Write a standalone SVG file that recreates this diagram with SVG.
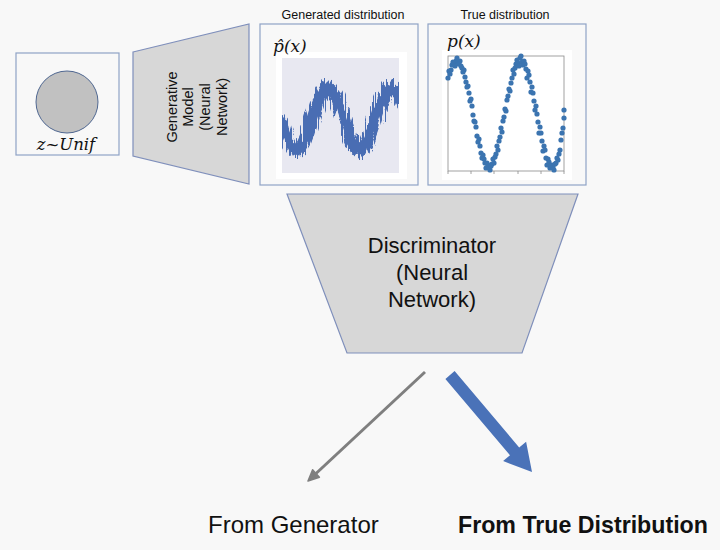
<svg xmlns="http://www.w3.org/2000/svg" width="720" height="550" viewBox="0 0 720 550">
<style>
.frame{fill:none;stroke:#8fa3c6;stroke-width:1.2}
.trap{fill:#d7d7d7;stroke:#7f8fbb;stroke-width:1.2}
.sans{font-family:"Liberation Sans",Arial,sans-serif;fill:#111}
.math{font-family:"DejaVu Serif","Liberation Serif",serif;font-style:italic;fill:#111}
</style>
<defs>
<marker id="dot" markerUnits="userSpaceOnUse" markerWidth="6" markerHeight="6" refX="3" refY="3" overflow="visible">
<circle cx="3" cy="3" r="2.6" fill="#3b74b0"/>
</marker>
<clipPath id="plotclip"><rect x="282" y="58" width="117" height="115"/></clipPath>
<filter id="jit" filterUnits="userSpaceOnUse" x="270" y="40" width="140" height="150">
<feTurbulence type="fractalNoise" baseFrequency="0.55 0.03" numOctaves="2" seed="4" result="n"/>
<feDisplacementMap in="SourceGraphic" in2="n" scale="16" xChannelSelector="B" yChannelSelector="R"/>
</filter>
</defs>
<rect x="0" y="0" width="720" height="550" fill="#f8f8f8"/>

<g id="noise">
<rect class="frame" x="16" y="53" width="103" height="102"/>
<circle cx="67" cy="102" r="31" fill="#c1c1c1" stroke="#4f6791" stroke-width="1"/>
<text class="math" x="66" y="150" font-size="16.5" text-anchor="middle">z~Unif</text>
</g>

<g id="generator">
<polygon class="trap" points="133,52 249,24 249,184 133,156"/>
<g class="sans" font-size="14.5" text-anchor="middle">
<text transform="translate(177,107) rotate(-90)">Generative</text>
<text transform="translate(193,107) rotate(-90)">Model</text>
<text transform="translate(210,107) rotate(-90)">(Neural</text>
<text transform="translate(227,107) rotate(-90)">Network)</text>
</g>
</g>

<g id="generated-dist">
<text class="sans" x="343" y="19" font-size="12.5" text-anchor="middle">Generated distribution</text>
<rect class="frame" x="260" y="24" width="158" height="161"/>
<rect x="276" y="52" width="131" height="127" fill="#ffffff"/>
<rect x="282" y="58" width="117" height="115" fill="#e8e8f1"/>
<g clip-path="url(#plotclip)">
<g filter="url(#jit)">
<polyline fill="none" stroke="#4a6db3" stroke-width="13" stroke-linejoin="round" transform="translate(0,5)" points="280.75,114 284.69,125.9 288.63,136 292.56,142.8 296.5,145 300.44,142.8 304.38,136 308.31,125.9 312.25,114 316.19,102.1 320.13,92 324.06,85.2 328,83 331.94,85.2 335.88,92 339.81,102.1 343.75,114 347.69,125.9 351.63,136 355.56,142.8 359.5,145 363.44,142.8 367.38,136 371.31,125.9 375.25,114 379.19,102.1 383.13,92 387.06,85.2 391,83 394.94,85.2 398.88,92 402.81,102.1"/>
</g>
</g>
<text class="math" x="273" y="52" font-size="17">p̂(x)</text>
</g>

<g id="true-dist">
<text class="sans" x="505" y="19" font-size="12.5" text-anchor="middle">True distribution</text>
<rect class="frame" x="428" y="24" width="158" height="161"/>
<rect x="442" y="50" width="130" height="130" fill="#ffffff"/>
<rect x="448" y="56" width="116" height="115" fill="#ffffff" stroke="#8a8a8a" stroke-width="0.8"/>
<path d="M448,171v3M471,171v3M494,171v3M518,171v3M541,171v3M564,171v3" stroke="#8a8a8a" stroke-width="0.8"/>
<polyline fill="none" stroke="none" marker-start="url(#dot)" marker-mid="url(#dot)" marker-end="url(#dot)" points="448,78 450,74 452,65 454,63 456,61 458,62 460,61 462,68 464,70 466,82 468,86 470,101 472,106 474,121 476,127 478,142 480,146 482,158 484,159 486,168 488,165 490,170 492,164 494,163 496,154 498,150 500,137 502,132 504,117 506,111 508,96 510,91 512,78 514,74 516,64 518,63 520,58 522,62 524,61 526,69 528,71 530,82 532,87 534,101 536,106 538,122 540,127 542,141 544,146 546,158 548,159 550,168 552,165 554,170 556,163 558,160 560,150 562,133 564,118"/>
<polyline fill="none" stroke="none" marker-start="url(#dot)" marker-mid="url(#dot)" marker-end="url(#dot)" points="449,71 451,70 453,62 455,66 457,58 459,64 461,66 463,72 465,77 467,87 469,93 471,99 473,115 475,122 477,136 479,139 481,153 483,155 485,163 487,163 489,167 491,166 493,159 495,157 497,146 499,141 501,128 503,121 505,109 507,100 509,89 511,83 513,70 515,68 517,60 519,66 521,56 523,65 525,64 527,78 529,75 531,92 533,93 535,110 537,114 539,133 541,133 543,151 545,150 547,165 549,162 551,166 553,167 555,164 557,158 559,154 561,140 563,128 564,110"/>
<text class="math" x="447" y="47" font-size="17">p(x)</text>
</g>

<g id="discriminator">
<polygon class="trap" points="287,194 578,194 522,353 347,353"/>
<g class="sans" font-size="22" text-anchor="middle">
<text x="432" y="253">Discriminator</text>
<text x="432" y="280">(Neural</text>
<text x="432" y="307">Network)</text>
</g>
</g>

<g id="connectors">
<line x1="425" y1="372" x2="316" y2="473.5" stroke="#7f7f7f" stroke-width="3"/>
<polygon points="308,481 312.6,469.8 319.4,477.2" fill="#7f7f7f" stroke="#7f7f7f" stroke-width="1.5" stroke-linejoin="round"/>
<polygon points="454.6,371.1 519.2,447.5 526.1,441.7 532,472 503.1,461.1 510,455.3 445.4,378.9" fill="#4a72b8"/>
</g>

<g id="label-gen">
<text class="sans" x="208" y="533" font-size="24">From Generator</text>
</g>
<g id="label-true">
<text class="sans" x="458" y="533" font-size="23.2" font-weight="bold">From True Distribution</text>
</g>
</svg>
